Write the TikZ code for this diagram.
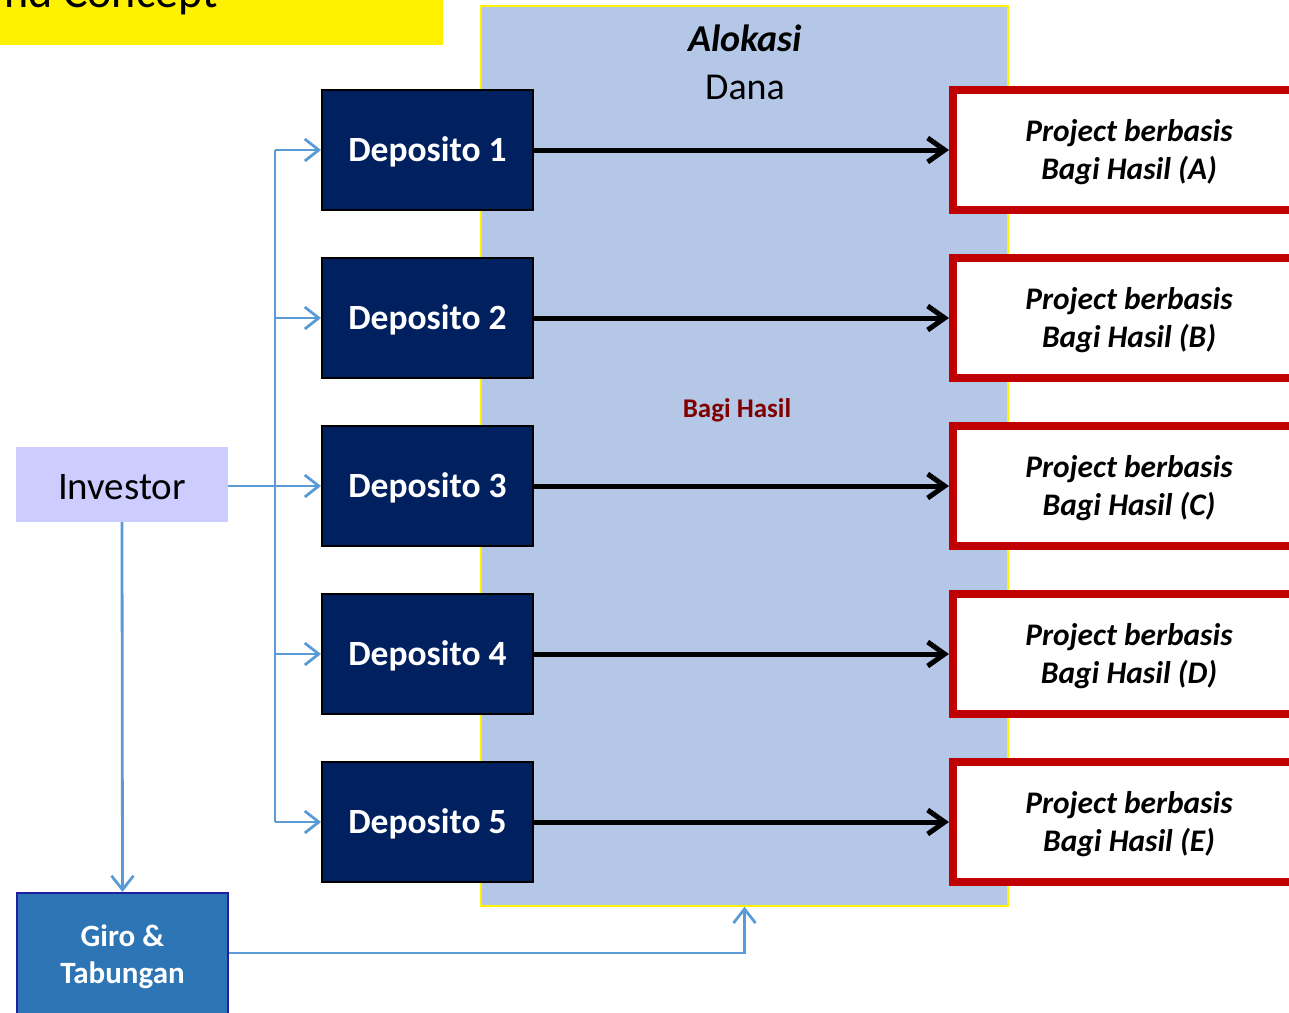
\documentclass[tikz,border=0pt]{standalone}
\usepackage{fontspec}
\setmainfont{Carlito}
\usetikzlibrary{arrows.meta}
\definecolor{navy}{HTML}{002060}
\definecolor{projred}{HTML}{C00000}
\definecolor{linkblue}{HTML}{5B9BD5}
\definecolor{allocfill}{HTML}{B4C7E7}
\definecolor{invfill}{HTML}{CCCCFF}
\definecolor{girofill}{HTML}{2E75B6}
\definecolor{giroedge}{HTML}{1F1FA0}
\definecolor{bagired}{HTML}{800000}
\tikzset{
  depbox/.style={draw=black, line width=2pt, fill=navy, text=white, minimum width=211pt, minimum height=120pt, inner sep=0pt, text height=29pt, text depth=7pt, font=\fontsize{35.5}{40}\selectfont\bfseries},
  projbox/.style={draw=projred, line width=8pt, fill=white, minimum width=352pt, minimum height=120pt, inner sep=0pt, align=center, font=\fontsize{31.4}{38}\selectfont\bfseries\itshape},
  blackarrow/.style={draw=black, line width=5pt, -{Straight Barb[length=17pt,width=24pt,line width=5pt]}},
  blueline/.style={draw=linkblue, line width=2.8pt},
  bluearrow/.style={blueline, -{Straight Barb[length=14pt,width=22pt,line width=2.8pt]}},
}
\begin{document}
\begin{tikzpicture}[x=1pt,y=-1pt]
\useasboundingbox (0,0) rectangle (1289,1012);
\clip (0,0) rectangle (1289,1012);
% title strip
\fill[yellow] (0,-5) rectangle (443,45);
\node[anchor=base east, inner sep=0pt, font=\fontsize{46}{50}\selectfont] (title) at (218,7) {nd Concept};
% allocation area
\node[draw=yellow, line width=1.5pt, fill=allocfill, minimum width=527pt, minimum height=900pt, inner sep=0pt] (alloc) at (744.5,456) {};
\node[font=\fontsize{38}{42}\selectfont\bfseries\itshape] (alok) at (745,38) {Alokasi};
\node[font=\fontsize{38}{42}\selectfont] (dana) at (745,87) {Dana};
\node[text=bagired, font=\fontsize{27}{30}\selectfont\bfseries] (bagi) at (737,410) {Bagi Hasil};
% deposito boxes and projects
\foreach \i/\y/\l in {1/150/A,2/318/B,3/486/C,4/654/D,5/822/E}{
  \node[depbox] (d\i) at (427.5,\y) {Deposito \i};
  \node[projbox] (p\i) at (1129,\y) {\rule{0pt}{26.5pt}Project berbasis\\Bagi Hasil (\l)};
  \draw[blackarrow] (d\i.east) -- (p\i.west);
  \coordinate (t\i) at (275,\y);
}
% investor
\node[fill=invfill, minimum width=212pt, minimum height=75pt, inner sep=0pt, text height=30.5pt, text depth=0pt, font=\fontsize{39}{42}\selectfont] (inv) at (122,484.5) {Investor};
% giro
\node[draw=giroedge, line width=2pt, fill=girofill, text=white, minimum width=211pt, minimum height=124pt, inner sep=0pt, align=center, font=\fontsize{31}{37}\selectfont\bfseries] (giro) at (122.5,955) {\rule{0pt}{25pt}Giro \&\\Tabungan};
% blue connectors
\draw[blueline] (t1) -- (t5);
\draw[bluearrow] (inv.east |- t3) -- (d3.west);
\foreach \i in {1,2,4,5}{
  \draw[bluearrow] (t\i) -- (d\i.west);
}
\draw[bluearrow] (inv.south) -- (giro.north);
\draw[bluearrow] (giro.east |- 0,953) -| (alloc.south);
\end{tikzpicture}
\end{document}
